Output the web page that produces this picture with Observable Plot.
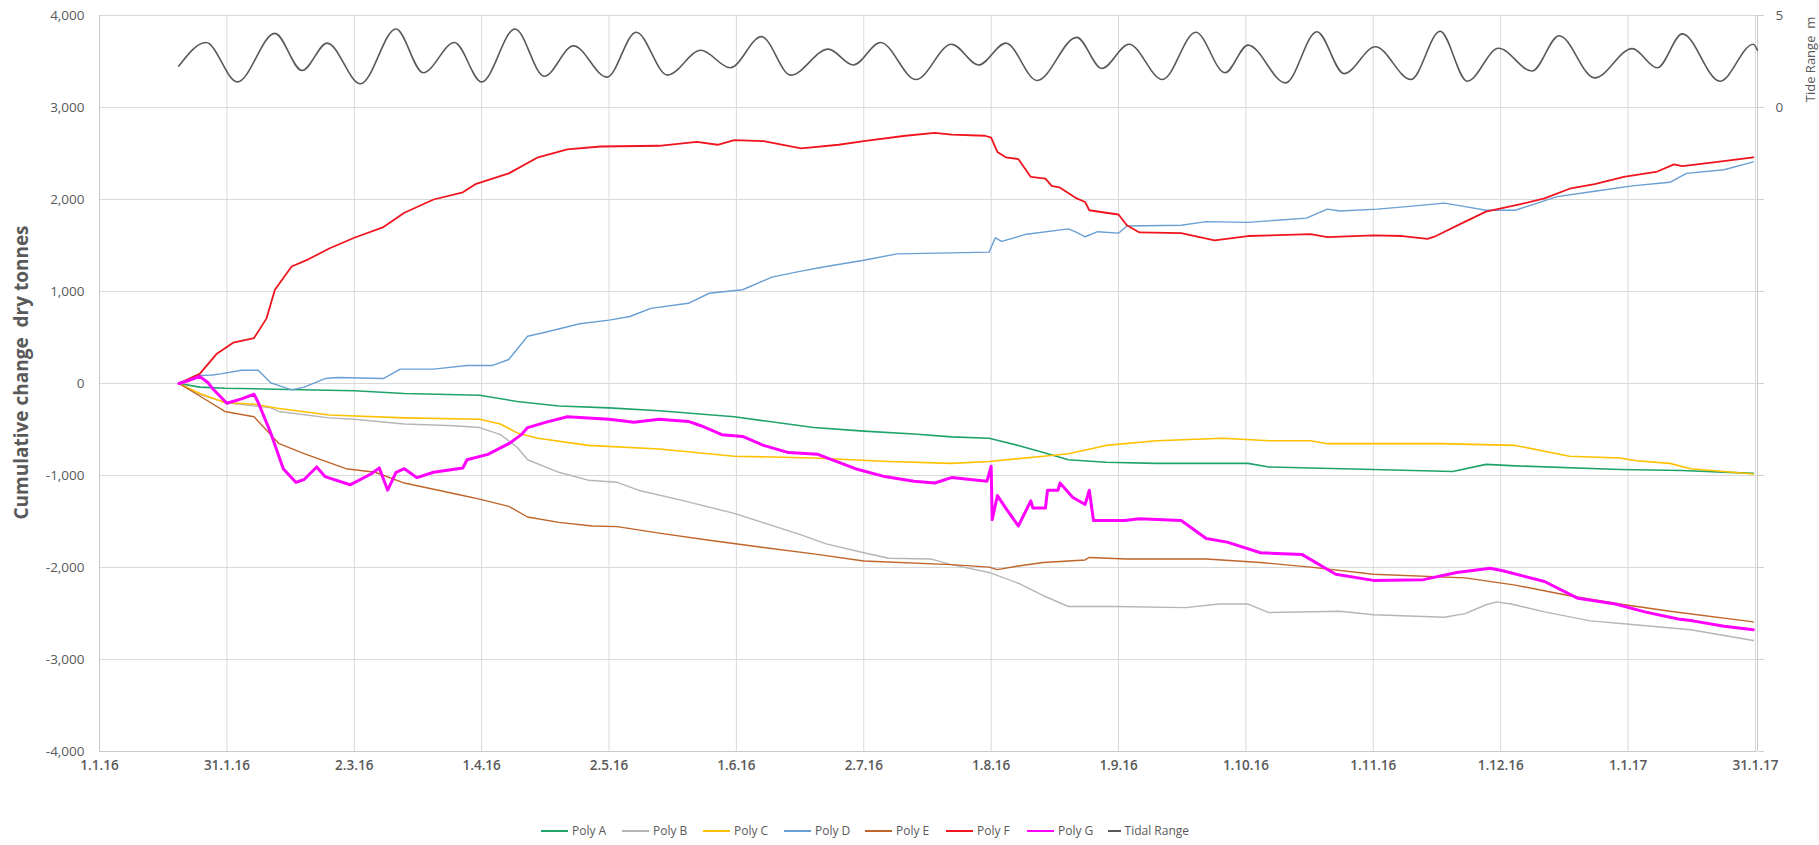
<!DOCTYPE html>
<html>
<head>
<meta charset="utf-8">
<script src="https://cdn.jsdelivr.net/npm/d3@7"></script>
<script src="https://cdn.jsdelivr.net/npm/@observablehq/plot@0.6"></script>
<style>
  html, body { margin: 0; padding: 0; background: #fff; }
  body { width: 1819px; height: 845px; overflow: hidden; position: relative; font-family: "Open Sans", sans-serif; }
  #chart { position: absolute; left: 0; top: 0; }
  #legend { position: absolute; left: 541px; top: 822px; display: flex; font-size: 12px; color: #595959; line-height: 18px; }
  #legend .item { display: flex; align-items: center; width: 81px; white-space: nowrap; }
  #legend .swatch { width: 27px; height: 2px; margin-right: 4px; }
</style>
</head>
<body>
<div id="chart"></div>
<div id="legend"></div>
<script>
// x-axis tick dates (every 30.5 days) and their labels
const tickDates = ["2016-01-01T00", "2016-01-31T12", "2016-03-02T00", "2016-04-01T12", "2016-05-02T00",
  "2016-06-01T12", "2016-07-02T00", "2016-08-01T12", "2016-09-01T00", "2016-10-01T12",
  "2016-11-01T00", "2016-12-01T12", "2017-01-01T00", "2017-01-31T12"];
const tickLabels = ["1.1.16", "31.1.16", "2.3.16", "1.4.16", "2.5.16", "1.6.16", "2.7.16", "1.8.16",
  "1.9.16", "1.10.16", "1.11.16", "1.12.16", "1.1.17", "31.1.17"];
const yTicks = [-4000, -3000, -2000, -1000, 0, 1000, 2000, 3000, 4000];

// cumulative change, dry tonnes
const polyA = [["2016-01-20", 0], ["2016-01-25", -39], ["2016-01-31", -51], ["2016-02-12", -62], ["2016-03-02", -78],
  ["2016-03-14", -109], ["2016-04-01", -128], ["2016-04-10", -195], ["2016-04-20", -245], ["2016-05-02", -265],
  ["2016-05-14", -296], ["2016-06-01", -362], ["2016-06-20", -479], ["2016-07-02", -518], ["2016-07-14", -549],
  ["2016-07-23", -580], ["2016-08-01", -595], ["2016-08-08", -673], ["2016-08-14", -751], ["2016-08-20", -829],
  ["2016-08-29", -856], ["2016-09-10", -868], ["2016-10-02", -868], ["2016-10-07", -907], ["2016-11-01", -934],
  ["2016-11-20", -957], ["2016-11-28", -879], ["2016-12-05", -895], ["2016-12-30", -934], ["2017-01-14", -946],
  ["2017-01-31", -977]];
const polyB = [["2016-01-20", 0], ["2016-01-25", -117], ["2016-01-31", -206], ["2016-02-11", -265], ["2016-02-13", -304],
  ["2016-02-25", -374], ["2016-03-02", -389], ["2016-03-14", -440], ["2016-03-26", -459], ["2016-04-01", -479],
  ["2016-04-06", -556], ["2016-04-10", -693], ["2016-04-12T12", -829], ["2016-04-20", -965], ["2016-04-27", -1051],
  ["2016-05-04", -1074], ["2016-05-09", -1160], ["2016-05-20", -1276], ["2016-06-01", -1412], ["2016-06-17", -1646],
  ["2016-06-23", -1743], ["2016-07-02", -1840], ["2016-07-08", -1899], ["2016-07-18", -1907], ["2016-07-23", -1969],
  ["2016-08-01", -2054], ["2016-08-08", -2171], ["2016-08-14", -2307], ["2016-08-20", -2424], ["2016-08-31", -2424],
  ["2016-09-17", -2436], ["2016-09-25", -2397], ["2016-10-02", -2397], ["2016-10-07", -2490], ["2016-10-24", -2475],
  ["2016-11-01", -2514], ["2016-11-18", -2541], ["2016-11-23", -2502], ["2016-11-28", -2405], ["2016-11-30T12", -2374],
  ["2016-12-04", -2397], ["2016-12-12", -2483], ["2016-12-23", -2580], ["2017-01-02", -2619], ["2017-01-16", -2677],
  ["2017-01-31", -2794]];
const polyC = [["2016-01-20", 0], ["2016-01-25", -109], ["2016-01-31", -206], ["2016-02-07", -226], ["2016-02-13", -272],
  ["2016-02-25", -342], ["2016-03-14", -374], ["2016-04-01", -389], ["2016-04-06", -440], ["2016-04-10", -537],
  ["2016-04-15", -595], ["2016-04-27", -673], ["2016-05-14", -712], ["2016-06-01", -790], ["2016-06-20", -809],
  ["2016-07-08", -848], ["2016-07-23", -868], ["2016-08-01", -848], ["2016-08-14", -790], ["2016-08-20", -763],
  ["2016-08-29", -673], ["2016-09-10", -623], ["2016-09-26", -595], ["2016-10-07", -623], ["2016-10-17", -623],
  ["2016-10-21", -654], ["2016-11-17", -654], ["2016-12-05", -673], ["2016-12-18", -790], ["2016-12-30", -809],
  ["2017-01-03", -840], ["2017-01-11", -868], ["2017-01-16", -926], ["2017-01-31", -984]];
const polyD = [["2016-01-20", 0], ["2016-01-24", 86], ["2016-01-28", 93], ["2016-01-30", 105], ["2016-02-04", 144],
  ["2016-02-08", 144], ["2016-02-11", 8], ["2016-02-13", -23], ["2016-02-16", -70], ["2016-02-19", -39],
  ["2016-02-24", 54], ["2016-02-27", 66], ["2016-03-09", 54], ["2016-03-13", 156], ["2016-03-21", 156],
  ["2016-03-29", 195], ["2016-04-04", 195], ["2016-04-08", 261], ["2016-04-12T12", 514], ["2016-04-17", 560],
  ["2016-04-25", 650], ["2016-05-02", 689], ["2016-05-07", 728], ["2016-05-12", 817], ["2016-05-21", 872],
  ["2016-05-26", 981], ["2016-06-03", 1019], ["2016-06-10", 1156], ["2016-06-17", 1222], ["2016-06-23", 1272],
  ["2016-07-02", 1339], ["2016-07-10", 1409], ["2016-07-23", 1420], ["2016-08-01", 1428], ["2016-08-02T12", 1584],
  ["2016-08-04", 1545], ["2016-08-10", 1623], ["2016-08-20", 1681], ["2016-08-22", 1642], ["2016-08-24", 1595],
  ["2016-08-27", 1650], ["2016-09-01", 1634], ["2016-09-03", 1712], ["2016-09-16", 1720], ["2016-09-22", 1759],
  ["2016-10-02", 1751], ["2016-10-16", 1798], ["2016-10-21", 1895], ["2016-10-24", 1875], ["2016-11-02", 1895],
  ["2016-11-09", 1922], ["2016-11-18", 1961], ["2016-11-23", 1922], ["2016-11-28", 1883], ["2016-12-05", 1883],
  ["2016-12-15", 2031], ["2016-12-24", 2089], ["2017-01-02", 2148], ["2017-01-11", 2187], ["2017-01-15", 2284],
  ["2017-01-24", 2323], ["2017-01-31", 2409]];
const polyE = [["2016-01-20", 0], ["2016-01-25", -136], ["2016-01-31", -304], ["2016-02-07", -362], ["2016-02-13", -654],
  ["2016-02-19", -763], ["2016-02-29", -926], ["2016-03-07", -965], ["2016-03-14", -1082], ["2016-03-28", -1218],
  ["2016-04-01", -1257], ["2016-04-08", -1335], ["2016-04-12T12", -1451], ["2016-04-20", -1510], ["2016-04-28", -1549],
  ["2016-05-04", -1556], ["2016-05-14", -1626], ["2016-05-26", -1704], ["2016-06-08", -1782], ["2016-06-20", -1852],
  ["2016-07-02", -1930], ["2016-07-23", -1969], ["2016-08-01", -1996], ["2016-08-03", -2023], ["2016-08-08", -1984],
  ["2016-08-14", -1946], ["2016-08-24", -1918], ["2016-08-25", -1891], ["2016-09-03", -1907], ["2016-09-22", -1907],
  ["2016-10-05", -1946], ["2016-10-17", -1996], ["2016-11-01", -2074], ["2016-11-23", -2113], ["2016-12-05", -2191],
  ["2016-12-18", -2307], ["2016-12-30", -2397], ["2017-01-11", -2475], ["2017-01-31", -2591]];
const polyF = [["2016-01-20", 0], ["2016-01-25", 105], ["2016-01-29", 320], ["2016-02-02", 444], ["2016-02-07", 494],
  ["2016-02-10", 708], ["2016-02-12", 1019], ["2016-02-16", 1272], ["2016-02-20", 1350], ["2016-02-25", 1467],
  ["2016-03-02", 1584], ["2016-03-09", 1700], ["2016-03-14", 1856], ["2016-03-21", 2000], ["2016-03-28", 2078],
  ["2016-03-31", 2167], ["2016-04-08", 2284], ["2016-04-15", 2459], ["2016-04-22", 2545], ["2016-04-30", 2576],
  ["2016-05-14", 2584], ["2016-05-23", 2626], ["2016-05-28", 2595], ["2016-06-01", 2646], ["2016-06-08", 2634],
  ["2016-06-17", 2556], ["2016-06-26", 2595], ["2016-07-02", 2634], ["2016-07-12", 2693], ["2016-07-19", 2724],
  ["2016-07-23", 2705], ["2016-07-31", 2693], ["2016-08-01T12", 2673], ["2016-08-03", 2517], ["2016-08-05", 2459],
  ["2016-08-08", 2440], ["2016-08-11", 2245], ["2016-08-14T12", 2226], ["2016-08-16", 2148], ["2016-08-18", 2128],
  ["2016-08-22", 2012], ["2016-08-24", 1973], ["2016-08-25", 1883], ["2016-08-29", 1856], ["2016-09-01", 1837],
  ["2016-09-03", 1720], ["2016-09-06", 1642], ["2016-09-16", 1634], ["2016-09-24", 1556], ["2016-10-02", 1603],
  ["2016-10-17", 1623], ["2016-10-21", 1591], ["2016-11-01", 1611], ["2016-11-08", 1603], ["2016-11-14", 1572],
  ["2016-11-16", 1603], ["2016-11-23", 1759], ["2016-11-28", 1868], ["2016-12-06", 1946], ["2016-12-12", 2012],
  ["2016-12-18", 2117], ["2016-12-24", 2167], ["2016-12-31", 2245], ["2017-01-08", 2304], ["2017-01-12", 2381],
  ["2017-01-14", 2362], ["2017-01-21", 2401], ["2017-01-31", 2459]];
const polyG = [["2016-01-20", 0], ["2016-01-22", 27], ["2016-01-25", 78], ["2016-01-27", 8], ["2016-01-28", -51],
  ["2016-01-31T12", -214], ["2016-02-04", -167], ["2016-02-07", -117], ["2016-02-08", -206], ["2016-02-11", -537],
  ["2016-02-14", -926], ["2016-02-17", -1074], ["2016-02-19", -1043], ["2016-02-22", -907], ["2016-02-24", -1012],
  ["2016-03-01", -1101], ["2016-03-06", -984], ["2016-03-08", -918], ["2016-03-10", -1160], ["2016-03-12", -965],
  ["2016-03-14", -926], ["2016-03-17", -1023], ["2016-03-21", -965], ["2016-03-28", -918], ["2016-03-29", -829],
  ["2016-04-03", -770], ["2016-04-08", -654], ["2016-04-11", -556], ["2016-04-12T12", -479], ["2016-04-17", -420],
  ["2016-04-22", -362], ["2016-05-02", -389], ["2016-05-08", -420], ["2016-05-14", -389], ["2016-05-21", -412],
  ["2016-05-24", -459], ["2016-05-29", -556], ["2016-06-03", -576], ["2016-06-08", -673], ["2016-06-14", -751],
  ["2016-06-21", -770], ["2016-06-30", -926], ["2016-07-07", -1012], ["2016-07-14", -1062], ["2016-07-19", -1082],
  ["2016-07-23", -1023], ["2016-07-31T12", -1062], ["2016-08-01T12", -900], ["2016-08-01T18", -1480],
  ["2016-08-03", -1218], ["2016-08-05", -1354], ["2016-08-08", -1549], ["2016-08-11", -1276], ["2016-08-11T12", -1354],
  ["2016-08-14T12", -1354], ["2016-08-15", -1160], ["2016-08-17T12", -1160], ["2016-08-18", -1082], ["2016-08-21", -1237],
  ["2016-08-24", -1315], ["2016-08-25", -1160], ["2016-08-26", -1490], ["2016-09-02T12", -1490], ["2016-09-06", -1471],
  ["2016-09-16", -1490], ["2016-09-22", -1685], ["2016-09-27", -1724], ["2016-10-05", -1840], ["2016-10-15", -1860],
  ["2016-10-23", -2074], ["2016-11-01", -2140], ["2016-11-13", -2132], ["2016-11-21", -2054], ["2016-11-29", -2008],
  ["2016-12-02", -2035], ["2016-12-12", -2152], ["2016-12-20", -2335], ["2016-12-29", -2397], ["2017-01-05", -2482],
  ["2017-01-13", -2560], ["2017-01-16T12", -2580], ["2017-01-24", -2638], ["2017-01-31", -2677]];

// tidal range, metres (secondary axis)
const tidalRange = [["2016-01-20", 2.25], ["2016-01-26T12", 3.53], ["2016-02-03", 1.39], ["2016-02-12", 4.03],
  ["2016-02-18T12", 2.01], ["2016-02-24T12", 3.50], ["2016-03-03T12", 1.29], ["2016-03-12", 4.27],
  ["2016-03-18T12", 1.89], ["2016-03-26", 3.53], ["2016-04-01T12", 1.39], ["2016-04-09T12", 4.27],
  ["2016-04-16T12", 1.70], ["2016-04-23T12", 3.35], ["2016-05-01T12", 1.65], ["2016-05-08T12", 4.09],
  ["2016-05-16", 1.76], ["2016-05-24", 3.11], ["2016-05-31", 2.16], ["2016-06-07T12", 3.85],
  ["2016-06-14T12", 1.76], ["2016-06-23T12", 3.17], ["2016-06-29T12", 2.31], ["2016-07-06", 3.53],
  ["2016-07-14T12", 1.52], ["2016-07-23", 3.44], ["2016-07-29T12", 2.31], ["2016-08-05", 3.50],
  ["2016-08-12T12", 1.47], ["2016-08-22", 3.81], ["2016-08-28", 2.12], ["2016-09-03T12", 3.44],
  ["2016-09-11T12", 1.52], ["2016-09-19T12", 4.09], ["2016-09-26T12", 1.89], ["2016-10-02", 3.39],
  ["2016-10-11", 1.34], ["2016-10-18T12", 4.12], ["2016-10-25", 1.84], ["2016-11-01T12", 3.30],
  ["2016-11-10", 1.52], ["2016-11-17", 4.14], ["2016-11-23T12", 1.43], ["2016-12-01", 3.22],
  ["2016-12-09", 1.98], ["2016-12-15T12", 3.90], ["2016-12-24", 1.61], ["2017-01-02", 3.20],
  ["2017-01-08", 2.16], ["2017-01-14", 4.00], ["2017-01-23", 1.43], ["2017-01-31", 3.44], ["2017-02-01", 3.11]];

const parse = s => new Date(s.length > 10 ? s + ":00:00Z" : s + "T00:00:00Z");
const xStart = parse("2016-01-01"), xEnd = parse("2017-02-01");
const ticks = tickDates.map(parse);
const labelByTime = new Map(ticks.map((d, i) => [+d, tickLabels[i]]));

// secondary axis: 0 m sits on the 3,000 line and 5 m on the 4,000 line
const tideZero = 3000, tidePerMetre = 200;

const series = [
  {name: "Poly A", color: "#1fa36a", width: 1.6, data: polyA},
  {name: "Poly B", color: "#b5b5b5", width: 1.4, data: polyB},
  {name: "Poly C", color: "#ffc000", width: 1.6, data: polyC},
  {name: "Poly D", color: "#6a9fd3", width: 1.4, data: polyD},
  {name: "Poly E", color: "#c0652a", width: 1.4, data: polyE},
  {name: "Poly F", color: "#f0141e", width: 1.8, data: polyF},
  {name: "Poly G", color: "#ff00ff", width: 3, data: polyG}
];
const tide = {name: "Tidal Range", color: "#595959", width: 1.6};

const toRows = arr => arr.map(([d, v]) => ({date: parse(d), value: v}));

const chart = Plot.plot({
  width: 1819,
  height: 800,
  marginLeft: 99,
  marginRight: 62,
  marginTop: 15,
  marginBottom: 49,
  style: {fontFamily: "'Open Sans', sans-serif", color: "#595959", background: "#fff"},
  x: {type: "utc", domain: [xStart, xEnd]},
  y: {domain: [-4000, 4000]},
  marks: [
    Plot.ruleY(yTicks, {stroke: "#d9d9d9", strokeWidth: 1}),
    Plot.ruleX(ticks, {stroke: "#d9d9d9", strokeWidth: 1}),
    Plot.ruleX([xStart], {stroke: "#c8c8c8", strokeWidth: 1}),
    Plot.ruleX([xEnd], {stroke: "#c8c8c8", strokeWidth: 1}),
    Plot.ruleY([-4000], {stroke: "#c8c8c8", strokeWidth: 1.2}),
    Plot.axisY(yTicks, {
      anchor: "left", tickSize: 0, tickPadding: 15, fontSize: 13.5, label: null,
      tickFormat: d => d.toLocaleString("en-US")
    }),
    Plot.axisY(yTicks, {
      anchor: "right", tickSize: 6, tickPadding: 12, fontSize: 13.5, label: null, stroke: "#d0d0d0",
      tickFormat: d => { const m = (d - tideZero) / tidePerMetre; return m >= 0 ? String(m) : ""; }
    }),
    Plot.axisX(ticks, {
      tickSize: 0, tickPadding: 9, fontSize: 13.5, fontWeight: 600, label: null,
      tickFormat: d => labelByTime.get(+d)
    }),
    ...series.map(s => Plot.line(toRows(s.data), {
      x: "date", y: "value", stroke: s.color, strokeWidth: s.width, strokeLinejoin: "round"
    })),
    Plot.line(toRows(tidalRange), {
      x: "date", y: d => tideZero + d.value * tidePerMetre, curve: "monotone-x",
      stroke: tide.color, strokeWidth: tide.width
    }),
    Plot.text(["Cumulative change  dry tonnes"], {
      frameAnchor: "left", rotate: -90, textAnchor: "middle", dx: -78, dy: -11,
      fontSize: 19, fontWeight: "bold", fill: "#595959"
    }),
    Plot.text(["Tide Range  m"], {
      frameAnchor: "top-right", rotate: -90, textAnchor: "middle", dx: 48, dy: 44,
      fontSize: 13, fill: "#595959"
    })
  ]
});
chart.querySelectorAll("text").forEach(t => t.style.whiteSpace = "pre");
document.getElementById("chart").appendChild(chart);

// legend below the chart
const legend = d3.select("#legend");
for (const s of [...series, tide]) {
  const item = legend.append("div").attr("class", "item");
  item.append("div").attr("class", "swatch").style("background", s.color);
  item.append("span").text(s.name);
}
</script>
</body>
</html>
